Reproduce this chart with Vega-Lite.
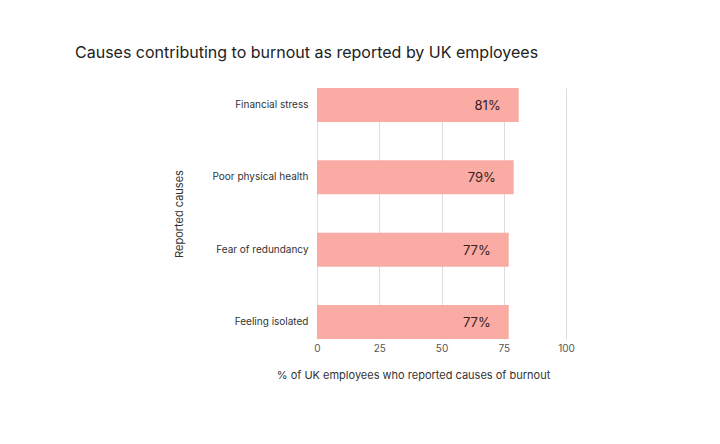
{
  "$schema": "https://vega.github.io/schema/vega-lite/v6.json",
  "autosize": {"type": "none"},
  "width": 249,
  "height": 251,
  "padding": {"left": 317, "top": 88, "right": 154, "bottom": 105},
  "background": "#ffffff",
  "title": {
    "text": "Causes contributing to burnout as reported by UK employees",
    "anchor": "start",
    "frame": "group",
    "dx": -242,
    "offset": 14,
    "baseline": "alphabetic",
    "fontSize": 16,
    "fontWeight": "normal",
    "font": "Inter",
    "color": "#222222"
  },
  "data": {
    "values": [
      {"cause": "Financial stress", "pct": 81, "label": "81%"},
      {"cause": "Poor physical health", "pct": 79, "label": "79%"},
      {"cause": "Fear of redundancy", "pct": 77, "label": "77%"},
      {"cause": "Feeling isolated", "pct": 77, "label": "77%"}
    ]
  },
  "encoding": {
    "y": {
      "field": "cause",
      "type": "nominal",
      "sort": null,
      "scale": {"paddingInner": 0.53, "paddingOuter": 0},
      "axis": {
        "title": "Reported  causes",
        "titleX": -133,
        "titleFontSize": 11,
        "titleFontWeight": "normal",
        "titleColor": "#333333",
        "labelFontSize": 10,
        "labelColor": "#333333",
        "labelPadding": 9,
        "ticks": false,
        "domain": false
      }
    },
    "x": {
      "field": "pct",
      "type": "quantitative",
      "scale": {"domain": [0, 100]},
      "axis": {
        "values": [0, 25, 50, 75, 100],
        "title": "% of UK employees who reported causes of burnout",
        "titleX": 96,
        "titleY": 36,
        "titleBaseline": "middle",
        "titleFontSize": 11,
        "titleFontWeight": "normal",
        "titleColor": "#333333",
        "labelFontSize": 10,
        "labelColor": "#555555",
        "labelPadding": 4,
        "labelFlush": false,
        "ticks": false,
        "domain": false,
        "grid": true,
        "gridColor": "#dddddd"
      }
    }
  },
  "layer": [
    {"mark": {"type": "bar", "color": "#f9aba4"}},
    {
      "mark": {
        "type": "text",
        "align": "right",
        "dx": -18,
        "dy": 1,
        "fontSize": 13,
        "fontWeight": "normal",
        "font": "Inter",
        "color": "#3a2020"
      },
      "encoding": {"text": {"field": "label"}}
    }
  ],
  "config": {
    "font": "Inter",
    "view": {"stroke": null}
  }
}
